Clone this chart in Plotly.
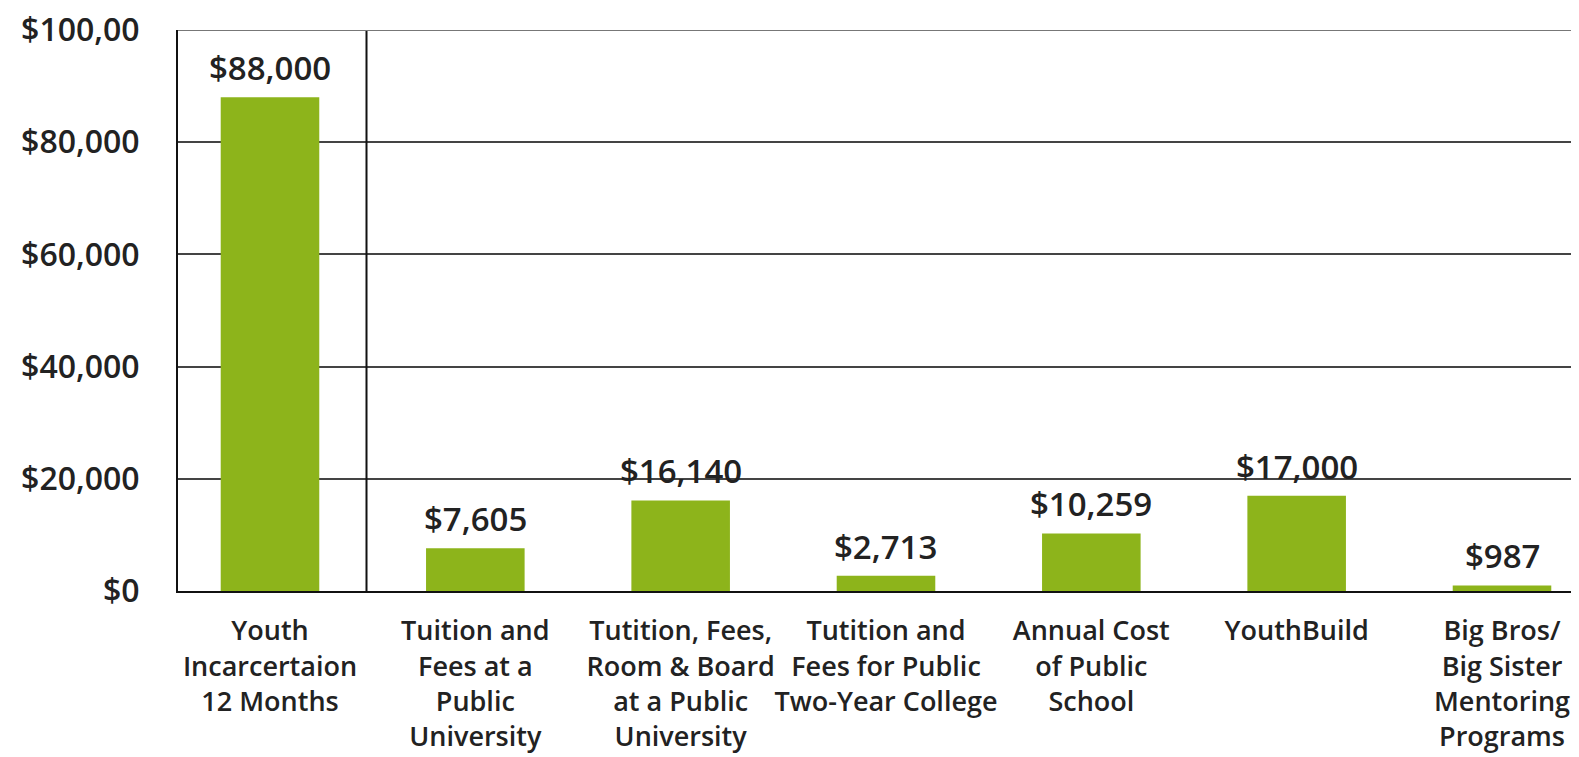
import plotly.graph_objects as go

categories = [
    "Youth<br>Incarcertaion<br>12 Months",
    "Tuition and<br>Fees at a<br>Public<br>University",
    "Tutition, Fees,<br>Room & Board<br>at a Public<br>University",
    "Tutition and<br>Fees for Public<br>Two-Year College",
    "Annual Cost<br>of Public<br>School",
    "YouthBuild",
    "Big Bros/<br>Big Sister<br>Mentoring<br>Programs",
]
values = [88000, 7605, 16140, 2713, 10259, 17000, 987]
value_labels = ["$88,000", "$7,605", "$16,140", "$2,713", "$10,259", "$17,000", "$987"]
y_ticks = [0, 20000, 40000, 60000, 80000, 100000]
y_tick_labels = ["$0", "$20,000", "$40,000", "$60,000", "$80,000", "$100,00"]

FONT = "Open Sans"
BAR = "#8DB41B"
TXT = "#222222"

x_idx = list(range(len(categories)))

fig = go.Figure()
fig.add_trace(go.Bar(
    x=x_idx, y=values, width=0.48,
    marker=dict(color=BAR, line=dict(width=0)),
    hoverinfo="skip",
))

for xi, v, t in zip(x_idx, values, value_labels):
    fig.add_annotation(
        x=xi, y=v, text=t, showarrow=False, yanchor="bottom", yshift=5,
        font=dict(family=FONT, size=33, color=TXT, weight=600),
    )

# separator after first category
fig.add_shape(type="line", xref="x", yref="paper", x0=0.47, x1=0.47, y0=0, y1=1,
              line=dict(color="#111111", width=2))
# top gridline at the max tick
fig.add_shape(type="line", xref="paper", yref="y", x0=0, x1=1,
              y0=y_ticks[-1], y1=y_ticks[-1], line=dict(color="#777777", width=2))

# page body has an 8px default margin; compensate so the plot area lands at
# x 178..1579, y 30..591 of the window
fig.update_layout(
    width=1579, height=757,
    margin=dict(l=170, r=8, t=22, b=174, autoexpand=False),
    paper_bgcolor="white", plot_bgcolor="white",
    showlegend=False,
    font=dict(family=FONT, color=TXT),
    xaxis=dict(
        range=[-0.448, 6.375],
        tickmode="array", tickvals=x_idx, ticktext=categories,
        tickfont=dict(family=FONT, size=27, color=TXT, weight=600),
        tickangle=0,
        showgrid=False, showline=True, linecolor="#111111", linewidth=2,
        ticks="", ticklabelstandoff=15, zeroline=False, fixedrange=True,
        automargin=False, ticklabeloverflow="allow",
    ),
    yaxis=dict(
        range=[0, 100000],
        tickmode="array", tickvals=y_ticks, ticktext=y_tick_labels,
        tickfont=dict(family=FONT, size=32, color=TXT, weight=600),
        showgrid=True, gridcolor="#444444", gridwidth=2,
        showline=True, linecolor="#111111", linewidth=2,
        ticks="", ticklabelstandoff=30, zeroline=False, fixedrange=True,
        automargin=False, ticklabeloverflow="allow",
    ),
)

fig.write_html("out.html")
